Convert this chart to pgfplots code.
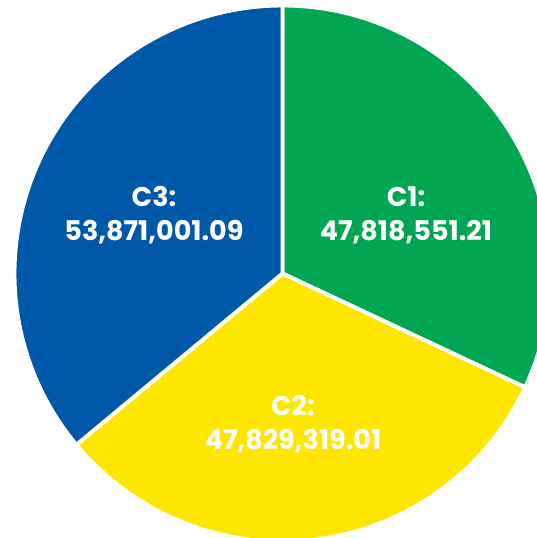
\documentclass[border=0pt]{standalone}
\usepackage{fontspec}
\setmainfont{Poppins}
\usepackage{pgfplots}
\usepackage{pgfplotstable}
\pgfplotsset{compat=1.18}

\definecolor{cgreen}{RGB}{0,166,81}
\definecolor{cyellow}{RGB}{255,230,0}
\definecolor{cblue}{RGB}{0,88,168}

% values in millions
\pgfplotstableread{
name value
C1 47.81855121
C2 47.82931901
C3 53.87100109
}\piedata

\begin{document}
\begin{tikzpicture}
\pgfplotstablegetelem{0}{value}\of\piedata \let\vA\pgfplotsretval
\pgfplotstablegetelem{1}{value}\of\piedata \let\vB\pgfplotsretval
\pgfplotstablegetelem{2}{value}\of\piedata \let\vC\pgfplotsretval
\pgfmathsetmacro\total{\vA+\vB+\vC}
\pgfmathsetmacro\aA{90-360*(\vA/\total)}
\pgfmathsetmacro\aB{\aA-360*(\vB/\total)}
\pgfmathsetmacro\aC{\aB-360*(\vC/\total)}
\def\cx{282.5}\def\cy{264.5}\def\r{268}
\begin{axis}[
    width=5.37cm, height=5.38cm, scale only axis,
    xmin=0, xmax=537, ymin=0, ymax=538,
    hide axis, clip=false,
]
\fill[cgreen, draw=white, line width=1.1pt]
    (axis cs:\cx,\cy) -- (axis cs:{\cx+\r*cos(90)},{\cy+\r*sin(90)})
    arc[start angle=90, end angle=\aA, radius=2.68cm] -- cycle;
\fill[cyellow, draw=white, line width=1.1pt]
    (axis cs:\cx,\cy) -- (axis cs:{\cx+\r*cos(\aA)},{\cy+\r*sin(\aA)})
    arc[start angle=\aA, end angle=\aB, radius=2.68cm] -- cycle;
\fill[cblue, draw=white, line width=1.1pt]
    (axis cs:\cx,\cy) -- (axis cs:{\cx+\r*cos(\aB)},{\cy+\r*sin(\aB)})
    arc[start angle=\aB, end angle=\aC, radius=2.68cm] -- cycle;
\tikzset{lbl/.style={align=center, text=white, inner sep=0pt,
    font=\bfseries\fontsize{7.7}{9.7}\selectfont}}
\node[lbl] at (axis cs:406,323) {C1:\\47,818,551.21};
\node[lbl] at (axis cs:293,113.5) {C2:\\47,829,319.01};
\node[lbl] at (axis cs:154,323) {C3:\\53,871,001.09};
\end{axis}
\pgfresetboundingbox
\useasboundingbox (current axis.south west) rectangle (current axis.north east);
\end{tikzpicture}
\end{document}
